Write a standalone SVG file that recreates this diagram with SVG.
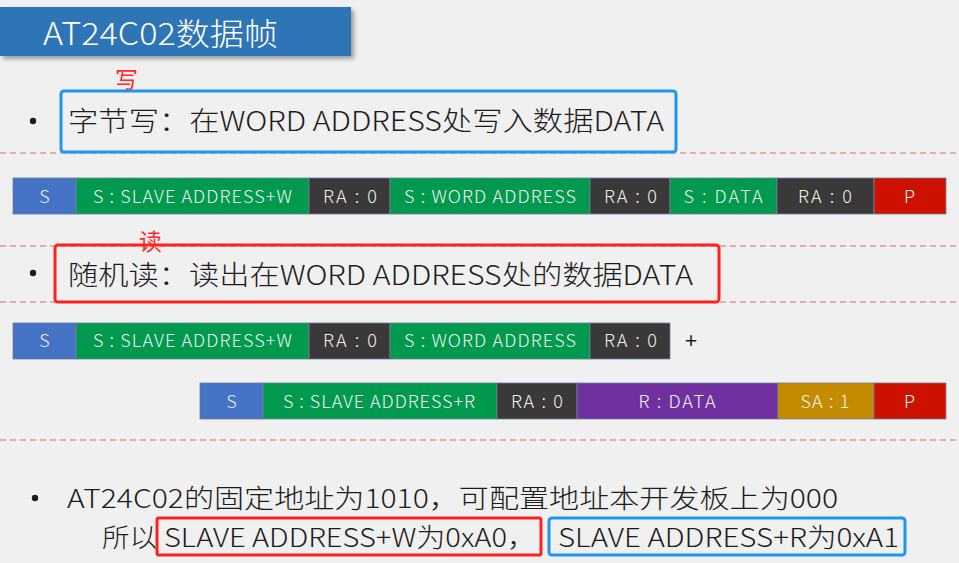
<svg xmlns="http://www.w3.org/2000/svg" width="959" height="563" viewBox="0 0 959 563">
<defs>
<filter id="sh" x="-5%" y="-20%" width="115%" height="150%">
<feDropShadow dx="3" dy="3" stdDeviation="2" flood-color="#000" flood-opacity="0.35"/>
</filter>
</defs>
<style>
.bg{fill:#f0f0f0}
.t{font-family:"Noto Sans CJK SC","Noto Sans",sans-serif;fill:#1c1c1c;font-weight:300}
.main{font-size:27px}
.low{font-size:26px}
.seg{font-family:"Noto Sans CJK SC","Noto Sans",sans-serif;font-size:18px;font-weight:300;fill:#eef3ee;text-anchor:middle}
.dash{stroke:#d46a6a;stroke-width:1;stroke-dasharray:6 4;fill:none}
.s{fill:#4472c4}
.g{fill:#00994e}
.k{fill:#3a3838}
.p{fill:#cc1100}
.v{fill:#7030a0}
.y{fill:#c58b00}
.edge{stroke:#6f7f9f;stroke-width:0.8}
.redbox{fill:none;stroke:#ff2020;stroke-width:3}
.bluebox{fill:none;stroke:#1e96f0;stroke-width:3}
.note{font-family:"Noto Sans CJK SC",sans-serif;font-size:23px;fill:#ff2a2a}
</style>
<rect class="bg" x="0" y="0" width="959" height="563"/>

<g id="title">
<rect x="0" y="7" width="351" height="49" fill="#2e75b6" filter="url(#sh)"/>
<text x="43" y="45" font-family="Noto Sans CJK SC, Noto Sans, sans-serif" font-size="31" font-weight="300" fill="#ffffff" textLength="235" lengthAdjust="spacingAndGlyphs">AT24C02数据帧</text>
</g>

<g id="connectors">
<line class="dash" x1="0" y1="153" x2="959" y2="153"/>
<line class="dash" x1="0" y1="246" x2="959" y2="246"/>
<line class="dash" x1="0" y1="302" x2="959" y2="302"/>
<line class="dash" x1="0" y1="440" x2="959" y2="440"/>
</g>

<g id="note-write"><text class="note" x="115" y="88">写</text></g>

<g id="line-write">
<circle cx="33" cy="121" r="3.2" fill="#1c1c1c"/>
<text class="t main" x="68" y="131" textLength="596" lengthAdjust="spacingAndGlyphs">字节写：在WORD ADDRESS处写入数据DATA</text>
<rect class="bluebox" x="61" y="91" width="615" height="61" rx="3"/>
</g>

<g id="row1">
<g id="r1-s"><rect class="s edge" x="13" y="178" width="63" height="36"/><text class="seg" x="44.5" y="203">S</text></g>
<g id="r1-sa"><rect class="g edge" x="76" y="178" width="233" height="36"/><text class="seg" x="192.5" y="203" textLength="199">S : SLAVE ADDRESS+W</text></g>
<g id="r1-ra1"><rect class="k edge" x="309" y="178" width="81" height="36"/><text class="seg" x="350" y="203" textLength="54">RA : 0</text></g>
<g id="r1-wa"><rect class="g edge" x="390" y="178" width="200" height="36"/><text class="seg" x="490" y="203" textLength="172">S : WORD ADDRESS</text></g>
<g id="r1-ra2"><rect class="k edge" x="590" y="178" width="80" height="36"/><text class="seg" x="630.5" y="203" textLength="53">RA : 0</text></g>
<g id="r1-data"><rect class="g edge" x="670" y="178" width="107" height="36"/><text class="seg" x="723" y="203" textLength="79">S : DATA</text></g>
<g id="r1-ra3"><rect class="k edge" x="777" y="178" width="97" height="36"/><text class="seg" x="825" y="203" textLength="54">RA : 0</text></g>
<g id="r1-p"><rect class="p edge" x="874" y="178" width="72" height="36"/><text class="seg" x="909.5" y="203">P</text></g>
</g>

<g id="note-read"><text class="note" x="139" y="250">读</text></g>

<g id="line-read">
<circle cx="33" cy="273" r="3.2" fill="#1c1c1c"/>
<text class="t main" x="68" y="285" textLength="625" lengthAdjust="spacingAndGlyphs">随机读：读出在WORD ADDRESS处的数据DATA</text>
<rect class="redbox" x="55" y="245" width="664" height="57" rx="3"/>
</g>

<g id="row2">
<g id="r2-s"><rect class="s edge" x="13" y="323" width="63" height="36"/><text class="seg" x="44.5" y="347">S</text></g>
<g id="r2-sa"><rect class="g edge" x="76" y="323" width="233" height="36"/><text class="seg" x="192.5" y="347" textLength="199">S : SLAVE ADDRESS+W</text></g>
<g id="r2-ra1"><rect class="k edge" x="309" y="323" width="81" height="36"/><text class="seg" x="350" y="347" textLength="54">RA : 0</text></g>
<g id="r2-wa"><rect class="g edge" x="390" y="323" width="200" height="36"/><text class="seg" x="490" y="347" textLength="172">S : WORD ADDRESS</text></g>
<g id="r2-ra2"><rect class="k edge" x="590" y="323" width="80" height="36"/><text class="seg" x="630.5" y="347" textLength="53">RA : 0</text></g>
<g id="plus"><text x="691" y="348" font-family="Noto Sans, sans-serif" font-size="22" fill="#1c1c1c" text-anchor="middle">+</text></g>
</g>

<g id="row3">
<g id="r3-s"><rect class="s edge" x="200" y="383" width="63" height="36"/><text class="seg" x="231.5" y="408">S</text></g>
<g id="r3-sa"><rect class="g edge" x="263" y="383" width="234" height="36"/><text class="seg" x="379" y="408" textLength="192">S : SLAVE ADDRESS+R</text></g>
<g id="r3-ra"><rect class="k edge" x="497" y="383" width="80" height="36"/><text class="seg" x="537" y="408" textLength="52">RA : 0</text></g>
<g id="r3-data"><rect class="v edge" x="577" y="383" width="201" height="36"/><text class="seg" x="677" y="408" textLength="77">R : DATA</text></g>
<g id="r3-ack"><rect class="y edge" x="778" y="383" width="96" height="36"/><text class="seg" x="825" y="408" textLength="49">SA : 1</text></g>
<g id="r3-p"><rect class="p edge" x="874" y="383" width="72" height="36"/><text class="seg" x="909.5" y="408">P</text></g>
</g>

<g id="address-note">
<circle cx="35" cy="498" r="3.2" fill="#1c1c1c"/>
<text class="t low" x="67" y="508" textLength="771" lengthAdjust="spacingAndGlyphs">AT24C02的固定地址为1010，可配置地址本开发板上为000</text>
<text class="t low" x="102" y="547" textLength="55" lengthAdjust="spacingAndGlyphs">所以</text>
<text class="t low" x="164" y="547" textLength="372" lengthAdjust="spacingAndGlyphs">SLAVE ADDRESS+W为0xA0，</text>
<text class="t low" x="558" y="547" textLength="341" lengthAdjust="spacingAndGlyphs">SLAVE ADDRESS+R为0xA1</text>
<rect class="redbox" x="157" y="518" width="384" height="37" rx="2"/>
<rect class="bluebox" x="549" y="518" width="356" height="37" rx="3"/>
</g>
</svg>
